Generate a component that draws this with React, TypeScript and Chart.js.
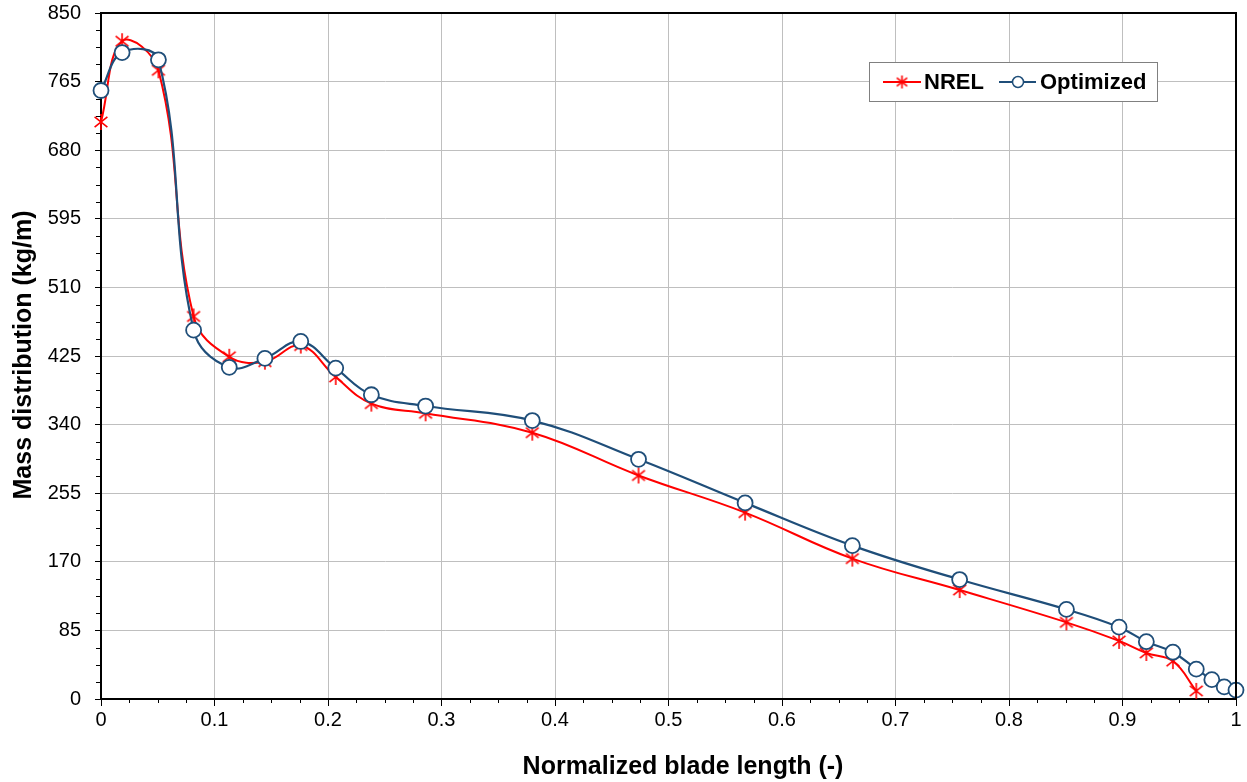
import React, { useEffect, useRef } from 'react';
import { Chart, registerables } from 'chart.js';

Chart.register(...registerables);

// ---- Data ----
const bladeStations = [0, 0.0186, 0.0506, 0.0816, 0.113, 0.1444, 0.176, 0.2068, 0.2382, 0.286, 0.38, 0.4736, 0.5675, 0.662, 0.7565, 0.8506, 0.897, 0.921, 0.9444, 0.965, 0.9787, 0.9896, 1.0];
const nrelMass = [715, 815, 779, 474, 424, 418, 438, 399, 366, 354, 330, 277, 231, 174, 135, 95, 72, 57, 47, 10];
const optimizedMass = [754, 801, 792, 457, 411, 422, 443, 410, 377, 363, 345, 297, 243, 190, 148, 111, 89, 71, 58, 37, 24, 15, 11];

const seriesNames = ['NREL', 'Optimized'];
const xTitle = 'Normalized blade length (-)';
const yTitle = 'Mass distribution (kg/m)';
const yMax = 850;
const yStep = 85;
const xMax = 1;
const xStep = 0.1;

const RED = '#FF0000';
const BLUE = '#1F4E79';
const FONT = 'Arial, "Liberation Sans", sans-serif';

function makeStar(color: string, size = 17) {
  const c = document.createElement('canvas');
  c.width = size;
  c.height = size;
  const g = c.getContext('2d')!;
  g.strokeStyle = color;
  g.lineWidth = 1.6;
  const m = size / 2;
  const r = size / 2 - 1;
  g.beginPath();
  g.moveTo(m - r * 0.8, m - r * 0.65);
  g.lineTo(m + r * 0.8, m + r * 0.65);
  g.moveTo(m + r * 0.8, m - r * 0.65);
  g.lineTo(m - r * 0.8, m + r * 0.65);
  g.moveTo(m, m - r);
  g.lineTo(m, m + r);
  g.stroke();
  return c;
}

const decorPlugin = {
  id: 'decor',
  afterDraw(chart: any) {
    const { ctx, chartArea: a, scales } = chart;
    const xs = scales.x;
    const ys = scales.y;
    ctx.save();
    // frame top/right
    ctx.strokeStyle = '#000';
    ctx.lineWidth = 2;
    ctx.beginPath();
    ctx.moveTo(a.left, a.top);
    ctx.lineTo(a.right, a.top);
    ctx.lineTo(a.right, a.bottom);
    ctx.stroke();
    // minor ticks
    ctx.lineWidth = 1;
    ctx.strokeStyle = '#000';
    ctx.beginPath();
    for (let i = 1; i < 40; i++) {
      if (i % 4 === 0) continue;
      const px = Math.round(xs.getPixelForValue(i * 0.025)) + 0.5;
      ctx.moveTo(px, a.bottom);
      ctx.lineTo(px, a.bottom + 4);
    }
    for (let i = 1; i < 40; i++) {
      if (i % 4 === 0) continue;
      const py = Math.round(ys.getPixelForValue(i * yStep / 4)) + 0.5;
      ctx.moveTo(a.left, py);
      ctx.lineTo(a.left - 5, py);
    }
    ctx.stroke();

    // axis titles
    ctx.fillStyle = '#000';
    ctx.font = `bold 25px ${FONT}`;
    ctx.textAlign = 'center';
    ctx.textBaseline = 'middle';
    ctx.fillText(xTitle, 683, 767);
    ctx.save();
    ctx.translate(24, 355);
    ctx.rotate(-Math.PI / 2);
    ctx.fillText(yTitle, 0, 0);
    ctx.restore();

    // legend
    const lx = 869, ly = 62, lw = 288, lh = 39;
    ctx.fillStyle = '#fff';
    ctx.fillRect(lx, ly, lw, lh);
    ctx.strokeStyle = '#808080';
    ctx.lineWidth = 1;
    ctx.strokeRect(lx + 0.5, ly + 0.5, lw, lh);
    const cy = ly + 20;
    ctx.lineWidth = 2;
    ctx.strokeStyle = RED;
    ctx.beginPath();
    ctx.moveTo(883, cy);
    ctx.lineTo(921, cy);
    ctx.stroke();
    const star = makeStar(RED, 15);
    ctx.drawImage(star, 902 - 7.5, cy - 7.5);
    ctx.strokeStyle = BLUE;
    ctx.beginPath();
    ctx.moveTo(999, cy);
    ctx.lineTo(1036, cy);
    ctx.stroke();
    ctx.beginPath();
    ctx.arc(1018, cy, 5.5, 0, Math.PI * 2);
    ctx.fillStyle = '#fff';
    ctx.fill();
    ctx.lineWidth = 1.5;
    ctx.stroke();
    ctx.fillStyle = '#000';
    ctx.font = `bold 22px ${FONT}`;
    ctx.textAlign = 'left';
    ctx.fillText(seriesNames[0], 924, cy + 1);
    ctx.fillText(seriesNames[1], 1040, cy + 1);
    ctx.restore();
  },
};

export default function App() {
  const ref = useRef<HTMLCanvasElement | null>(null);
  useEffect(() => {
    document.body.style.margin = '0';
    const canvas = ref.current!;
    const starImg = makeStar(RED, 18);
    const nrelData = nrelMass.map((y, i) => ({ x: bladeStations[i], y }));
    const optData = optimizedMass.map((y, i) => ({ x: bladeStations[i], y }));
    const chart = new Chart(canvas, {
      type: 'line',
      data: {
        datasets: [
          {
            label: seriesNames[0],
            data: nrelData,
            borderColor: RED,
            backgroundColor: RED,
            borderWidth: 2,
            pointStyle: starImg as any,
            pointRadius: 9,
            tension: 0.4,
            clip: false as any,
            order: 1,
          },
          {
            label: seriesNames[1],
            data: optData,
            borderColor: BLUE,
            backgroundColor: '#fff',
            borderWidth: 2.2,
            pointStyle: 'circle',
            pointRadius: 7.5,
            pointBorderWidth: 1.8,
            pointBackgroundColor: '#fff',
            pointBorderColor: BLUE,
            tension: 0.4,
            clip: false as any,
            order: 0,
          },
        ],
      },
      options: {
        responsive: false,
        animation: false,
        devicePixelRatio: 1,
        layout: { padding: { top: 13, right: 7, left: 0, bottom: 0 } },
        plugins: {
          legend: { display: false },
          tooltip: { enabled: false },
          title: { display: false },
        },
        scales: {
          x: {
            type: 'linear',
            min: 0,
            max: xMax,
            afterFit: (s: any) => {
              s.height = 83;
              s.paddingLeft = 0;
              s.paddingRight = 0;
            },
            ticks: {
              stepSize: xStep,
              font: { family: FONT, size: 20 },
              color: '#000',
              padding: 2,
              maxRotation: 0,
              callback: (v: any) => String(Number(Number(v).toFixed(1))),
            },
            grid: { color: '#BFBFBF', lineWidth: 1, tickLength: 7, tickColor: '#000', tickWidth: 1 },
            border: { color: '#000', width: 2 },
          },
          y: {
            type: 'linear',
            min: 0,
            max: yMax,
            afterFit: (s: any) => {
              s.width = 101;
              s.paddingTop = 0;
              s.paddingBottom = 0;
            },
            ticks: {
              stepSize: yStep,
              font: { family: FONT, size: 20 },
              color: '#000',
              padding: 14,
            },
            grid: { color: '#BFBFBF', lineWidth: 1, tickLength: 6, tickColor: '#000', tickWidth: 1 },
            border: { color: '#000', width: 2 },
          },
        },
      },
      plugins: [decorPlugin],
    });
    return () => chart.destroy();
  }, []);
  return (
    <div style={{ position: 'fixed', left: 0, top: 0, width: 1247, height: 782, background: '#fff' }}>
      <canvas ref={ref} width={1247} height={782} style={{ width: 1247, height: 782, display: 'block' }} />
    </div>
  );
}
